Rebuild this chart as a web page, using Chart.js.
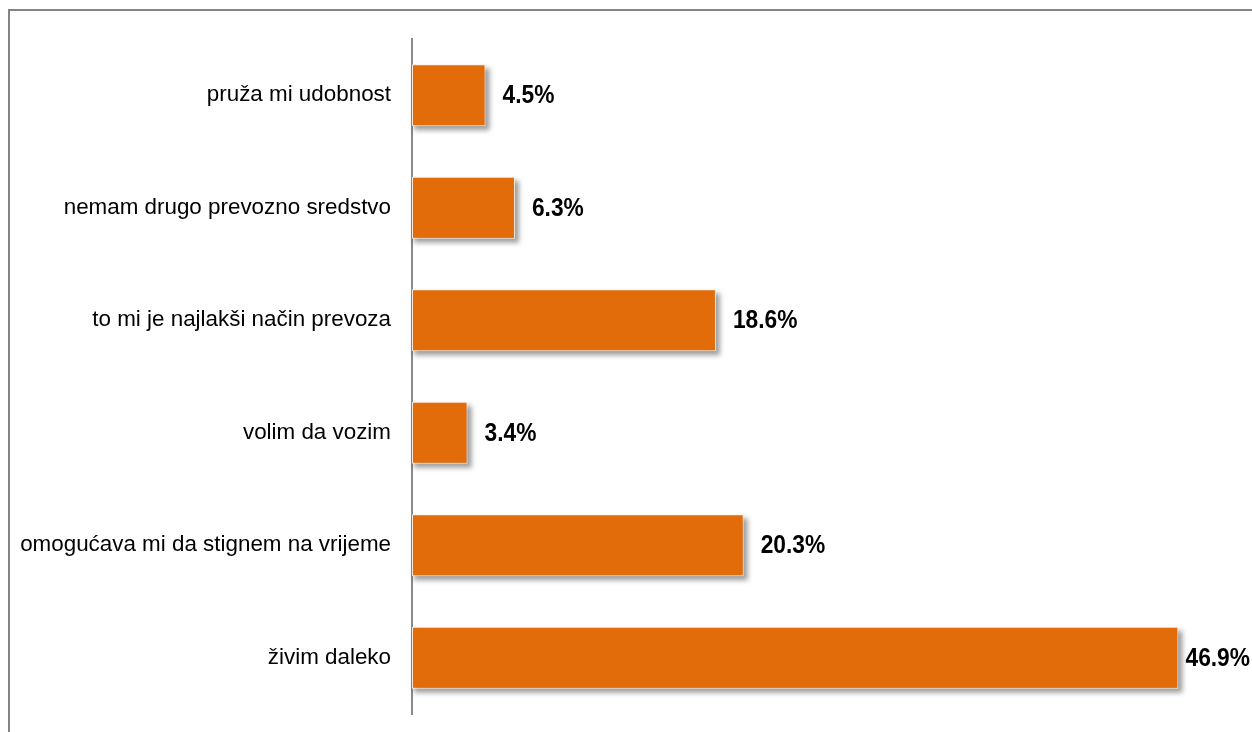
<!DOCTYPE html>
<html>
<head>
<meta charset="utf-8">
<script src="https://cdn.jsdelivr.net/npm/chart.js@4/dist/chart.umd.min.js"></script>
<style>
  html, body { margin: 0; padding: 0; background: #ffffff; }
  #wrap { position: relative; width: 1252px; height: 732px; overflow: hidden; }
  #frame { position: absolute; left: 8px; top: 9px; width: 1400px; height: 900px;
           border-top: 2px solid #848484; border-left: 2px solid #848484; pointer-events: none; }
  canvas { position: absolute; left: 0; top: 0; }
</style>
</head>
<body>
<div id="wrap">
  <canvas id="c" width="1252" height="732"></canvas>
  <div id="frame"></div>
</div>
<script>
// Reasons for driving, share of respondents (%)
const categories = [
  'pruža mi udobnost',
  'nemam drugo prevozno sredstvo',
  'to mi je najlakši način prevoza',
  'volim da vozim',
  'omogućava mi da stignem na vrijeme',
  'živim daleko'
];
const shares = [4.5, 6.3, 18.6, 3.4, 20.3, 46.9];

const BAR_COLOR = '#E36C0A';

// soft drop shadow under the bars, painted before the bars themselves
const barShadow = {
  id: 'barShadow',
  beforeDatasetsDraw(chart) {
    const ctx = chart.ctx;
    const meta = chart.getDatasetMeta(0);
    ctx.save();
    ctx.filter = 'blur(2.5px)';
    ctx.fillStyle = 'rgba(0,0,0,0.38)';
    meta.data.forEach(bar => {
      const h = bar.height;
      const left = Math.min(bar.base, bar.x);
      const w = Math.abs(bar.x - bar.base);
      ctx.fillRect(left + 2, bar.y - h / 2 + 4, w + 2, h);
    });
    ctx.restore();
  }
};

// percentage labels to the right of each bar (narrow bold face)
const valueLabels = {
  id: 'valueLabels',
  afterDatasetsDraw(chart) {
    const ctx = chart.ctx;
    const meta = chart.getDatasetMeta(0);
    const squeeze = 0.91;
    ctx.save();
    ctx.font = 'bold 25px "Liberation Sans", Arial, sans-serif';
    ctx.fillStyle = '#000000';
    ctx.textBaseline = 'middle';
    ctx.textAlign = 'left';
    meta.data.forEach((bar, i) => {
      const txt = shares[i].toFixed(1) + '%';
      const w = ctx.measureText(txt).width * squeeze;
      const x = Math.min(bar.x + 17, chart.width - 2 - w);
      ctx.save();
      ctx.translate(x, bar.y + 1);
      ctx.scale(squeeze, 1);
      ctx.fillText(txt, 0, 0);
      ctx.restore();
    });
    ctx.restore();
  }
};

new Chart(document.getElementById('c'), {
  type: 'bar',
  data: {
    labels: categories,
    datasets: [{
      data: shares,
      backgroundColor: BAR_COLOR,
      borderColor: 'rgba(255,238,224,0.95)',
      borderWidth: 1,
      borderSkipped: false,
      categoryPercentage: 1,
      barPercentage: 0.55
    }]
  },
  options: {
    indexAxis: 'y',
    responsive: false,
    animation: false,
    events: [],
    layout: { padding: { left: 0, right: 23, top: 39, bottom: 18 } },
    plugins: {
      legend: { display: false },
      tooltip: { enabled: false }
    },
    scales: {
      x: {
        display: false,
        min: 0,
        max: 50
      },
      y: {
        afterFit(scale) {
          scale.width = 412;
          scale.paddingTop = 0;
          scale.paddingBottom = 0;
        },
        grid: { display: false, drawTicks: false },
        border: { display: true, color: '#8a8a8a', width: 2 },
        ticks: {
          padding: 21,
          color: '#000000',
          font: { family: '"Liberation Sans", Arial, sans-serif', size: 22.4 }
        }
      }
    }
  },
  plugins: [barShadow, valueLabels]
});
</script>
</body>
</html>
